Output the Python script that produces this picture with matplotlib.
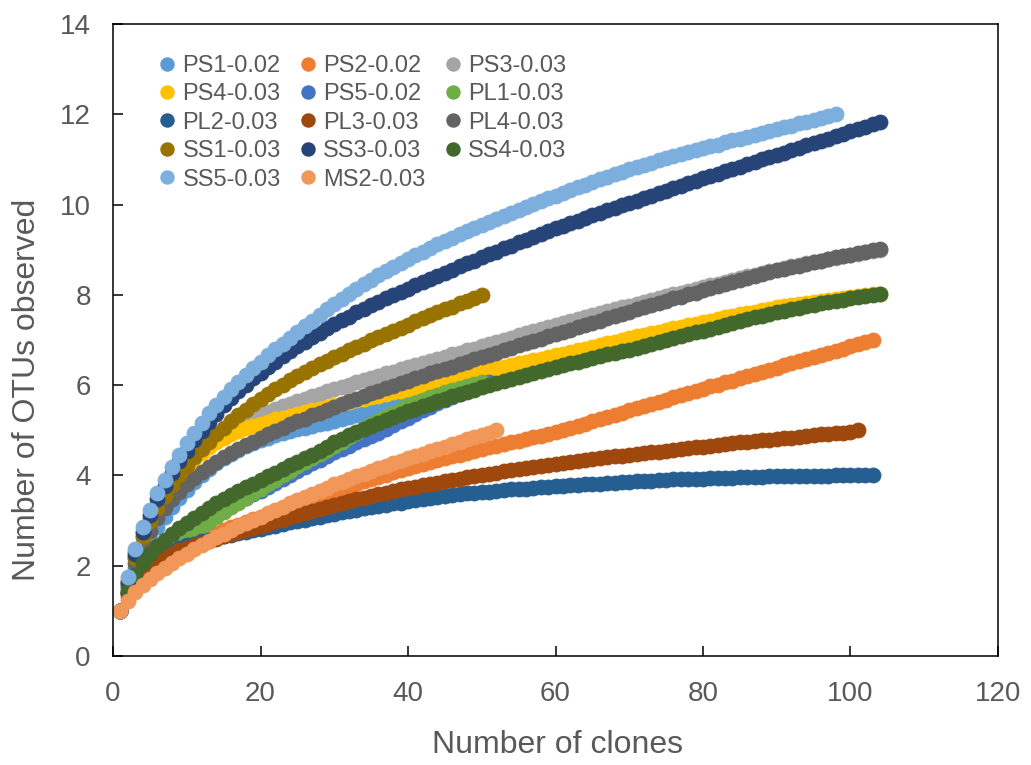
import matplotlib
matplotlib.use("Agg")
import matplotlib.pyplot as plt
from matplotlib.lines import Line2D

plt.rcParams['font.family'] = ['Liberation Sans', 'DejaVu Sans']

# ---- data (observed OTUs vs number of clones, one value per clone starting at 1) ----
ps1 = [1.00,1.50,1.95,2.30,2.60,2.86,3.09,3.30,3.50,3.68,
       3.85,4.00,4.14,4.27,4.38,4.48,4.57,4.65,4.72,4.79,
       4.84,4.89,4.94,4.99,5.03,5.06,5.10,5.13,5.17,5.20,
       5.24,5.29,5.34,5.39,5.44,5.49,5.54,5.59,5.64,5.69,
       5.73,5.77,5.81,5.85,5.88,5.91,5.94,5.97,6.00,6.03]
ps2 = [1.00,1.30,1.53,1.72,1.88,2.02,2.14,2.24,2.33,2.42,
       2.50,2.58,2.65,2.72,2.79,2.85,2.91,2.97,3.03,3.09,
       3.15,3.21,3.27,3.32,3.38,3.44,3.49,3.55,3.60,3.66,
       3.71,3.76,3.82,3.87,3.92,3.97,4.02,4.07,4.12,4.17,
       4.21,4.25,4.30,4.34,4.38,4.42,4.46,4.50,4.54,4.58,
       4.62,4.66,4.69,4.73,4.77,4.81,4.85,4.88,4.92,4.96,
       5.01,5.06,5.10,5.15,5.20,5.25,5.30,5.34,5.39,5.44,
       5.49,5.54,5.58,5.63,5.68,5.73,5.78,5.82,5.87,5.92,
       5.97,6.01,6.06,6.10,6.15,6.20,6.25,6.29,6.34,6.39,
       6.44,6.48,6.53,6.57,6.62,6.67,6.72,6.76,6.81,6.86,
       6.91,6.95,7.00]
ps3 = [1.00,1.65,2.20,2.66,3.03,3.35,3.63,3.89,4.12,4.33,
       4.50,4.66,4.79,4.91,5.00,5.09,5.16,5.23,5.29,5.35,
       5.41,5.47,5.53,5.58,5.64,5.69,5.75,5.80,5.86,5.91,
       5.96,6.01,6.06,6.11,6.16,6.21,6.26,6.30,6.35,6.40,
       6.45,6.49,6.54,6.58,6.63,6.68,6.72,6.77,6.81,6.86,
       6.91,6.96,7.00,7.05,7.10,7.15,7.19,7.24,7.28,7.33,
       7.37,7.42,7.46,7.51,7.55,7.59,7.64,7.68,7.72,7.76,
       7.80,7.85,7.89,7.93,7.97,8.01,8.05,8.09,8.13,8.17,
       8.21,8.25,8.29,8.33,8.37,8.41,8.45,8.48,8.52,8.56,
       8.59,8.63,8.66,8.70,8.73,8.76,8.79,8.82,8.85,8.88,
       8.91,8.94,8.97,9.00]
ps4 = [1.00,1.70,2.30,2.72,3.05,3.35,3.60,3.82,4.02,4.20,
       4.36,4.50,4.63,4.74,4.84,4.92,4.99,5.05,5.10,5.15,
       5.19,5.24,5.28,5.32,5.36,5.40,5.44,5.47,5.51,5.55,
       5.59,5.62,5.66,5.69,5.73,5.77,5.81,5.84,5.88,5.92,
       5.96,6.00,6.03,6.07,6.11,6.15,6.19,6.22,6.26,6.30,
       6.34,6.37,6.41,6.44,6.48,6.52,6.55,6.59,6.62,6.66,
       6.70,6.74,6.77,6.81,6.85,6.89,6.93,6.96,7.00,7.04,
       7.08,7.11,7.15,7.18,7.22,7.26,7.29,7.33,7.36,7.40,
       7.43,7.47,7.50,7.54,7.57,7.60,7.63,7.66,7.69,7.72,
       7.75,7.77,7.80,7.82,7.85,7.87,7.89,7.91,7.93,7.95,
       7.97,7.99,8.01,8.03]
ps5 = [1.00,1.40,1.72,1.96,2.15,2.30,2.43,2.54,2.63,2.72,
       2.84,2.95,3.06,3.16,3.25,3.34,3.42,3.50,3.58,3.65,
       3.74,3.83,3.92,4.01,4.10,4.18,4.27,4.35,4.44,4.52,
       4.59,4.66,4.74,4.81,4.88,4.95,5.02,5.12,5.20,5.28,
       5.36,5.44,5.52,5.60,5.67,5.74,5.81,5.88,5.95,6.01,
       6.06]
pl1 = [1.00,1.40,1.70,1.90,2.05,2.18,2.30,2.41,2.52,2.63,
       2.75,2.86,2.97,3.08,3.19,3.30,3.40,3.50,3.60,3.70,
       3.80,3.90,4.00,4.10,4.20,4.29,4.38,4.47,4.56,4.65,
       4.75,4.85,4.95,5.05,5.15,5.23,5.31,5.39,5.47,5.55,
       5.61,5.67,5.73,5.79,5.85,5.89,5.94,5.98,6.03,6.07]
pl2 = [1.00,1.40,1.70,1.90,2.04,2.15,2.24,2.32,2.39,2.45,
       2.49,2.54,2.58,2.62,2.65,2.69,2.72,2.75,2.79,2.82,
       2.85,2.89,2.92,2.96,2.99,3.02,3.06,3.09,3.12,3.15,
       3.18,3.21,3.24,3.27,3.30,3.33,3.35,3.38,3.40,3.43,
       3.45,3.47,3.50,3.52,3.54,3.56,3.58,3.60,3.61,3.63,
       3.64,3.66,3.67,3.69,3.70,3.71,3.72,3.74,3.75,3.76,
       3.77,3.78,3.79,3.80,3.81,3.82,3.83,3.84,3.85,3.86,
       3.87,3.88,3.88,3.89,3.90,3.91,3.91,3.92,3.92,3.93,
       3.94,3.94,3.95,3.95,3.96,3.96,3.97,3.97,3.98,3.98,
       3.98,3.98,3.99,3.99,3.99,3.99,3.99,4.00,4.00,4.00,
       4.00,4.00,4.00]
pl3 = [1.00,1.40,1.68,1.88,2.02,2.12,2.20,2.27,2.34,2.40,
       2.45,2.50,2.55,2.60,2.65,2.70,2.74,2.79,2.83,2.88,
       2.93,2.98,3.02,3.07,3.12,3.17,3.21,3.26,3.30,3.35,
       3.39,3.43,3.47,3.51,3.55,3.58,3.62,3.65,3.69,3.72,
       3.75,3.78,3.81,3.84,3.87,3.90,3.93,3.96,3.98,4.01,
       4.04,4.06,4.09,4.11,4.14,4.16,4.19,4.21,4.24,4.26,
       4.28,4.30,4.32,4.34,4.36,4.38,4.40,4.42,4.44,4.46,
       4.48,4.50,4.51,4.53,4.55,4.57,4.59,4.60,4.62,4.64,
       4.66,4.68,4.69,4.71,4.73,4.75,4.76,4.78,4.79,4.81,
       4.83,4.84,4.86,4.87,4.89,4.91,4.92,4.94,4.95,4.97,
       5.00]
pl4 = [1.00,1.55,2.05,2.45,2.78,3.05,3.28,3.47,3.64,3.80,
       3.94,4.07,4.19,4.30,4.40,4.50,4.59,4.67,4.75,4.83,
       4.91,4.98,5.06,5.13,5.20,5.26,5.33,5.39,5.46,5.52,
       5.58,5.64,5.70,5.76,5.82,5.88,5.93,5.99,6.04,6.10,
       6.15,6.20,6.26,6.31,6.36,6.41,6.46,6.52,6.57,6.62,
       6.67,6.72,6.78,6.83,6.88,6.93,6.98,7.03,7.08,7.13,
       7.18,7.23,7.28,7.33,7.38,7.43,7.48,7.53,7.58,7.63,
       7.68,7.73,7.77,7.82,7.87,7.92,7.96,8.01,8.05,8.10,
       8.15,8.19,8.24,8.28,8.33,8.37,8.41,8.46,8.50,8.54,
       8.58,8.62,8.65,8.69,8.73,8.76,8.79,8.83,8.86,8.89,
       8.92,8.96,8.99,9.02]
ss1 = [1.00,1.60,2.18,2.63,2.98,3.28,3.55,3.79,4.01,4.21,
       4.40,4.58,4.75,4.91,5.06,5.20,5.33,5.46,5.58,5.69,
       5.80,5.91,6.01,6.11,6.20,6.29,6.37,6.46,6.54,6.62,
       6.70,6.77,6.85,6.92,6.99,7.06,7.13,7.20,7.27,7.34,
       7.41,7.48,7.55,7.61,7.68,7.74,7.81,7.87,7.94,8.00]
ss3 = [1.00,1.65,2.25,2.74,3.13,3.47,3.77,4.05,4.31,4.55,
       4.78,4.99,5.19,5.37,5.55,5.71,5.87,6.01,6.15,6.28,
       6.40,6.52,6.64,6.75,6.86,6.96,7.06,7.16,7.26,7.35,
       7.44,7.52,7.61,7.69,7.77,7.85,7.92,8.00,8.07,8.14,
       8.21,8.28,8.35,8.42,8.49,8.56,8.63,8.70,8.76,8.83,
       8.90,8.96,9.03,9.09,9.16,9.22,9.28,9.35,9.41,9.47,
       9.53,9.59,9.64,9.70,9.76,9.82,9.87,9.93,9.98,10.04,
       10.09,10.15,10.20,10.26,10.31,10.36,10.42,10.47,10.53,10.58,
       10.63,10.68,10.74,10.79,10.84,10.89,10.94,11.00,11.05,11.10,
       11.15,11.20,11.26,11.31,11.36,11.41,11.46,11.52,11.57,11.62,
       11.67,11.72,11.78,11.83]
ss4 = [1.00,1.45,1.80,2.06,2.27,2.44,2.58,2.71,2.83,2.95,
       3.06,3.17,3.28,3.38,3.48,3.57,3.66,3.74,3.82,3.90,
       3.98,4.06,4.14,4.22,4.30,4.38,4.46,4.55,4.64,4.73,
       4.81,4.89,4.96,5.03,5.10,5.17,5.23,5.30,5.36,5.42,
       5.48,5.54,5.59,5.65,5.70,5.75,5.80,5.85,5.90,5.95,
       6.00,6.04,6.09,6.13,6.18,6.22,6.27,6.31,6.36,6.40,
       6.44,6.48,6.52,6.56,6.60,6.64,6.68,6.71,6.75,6.78,
       6.82,6.87,6.91,6.96,7.00,7.04,7.08,7.13,7.17,7.21,
       7.25,7.29,7.34,7.38,7.42,7.46,7.50,7.53,7.57,7.61,
       7.64,7.68,7.71,7.75,7.78,7.81,7.84,7.86,7.89,7.92,
       7.95,7.97,8.00,8.02]
ss5 = [1.00,1.75,2.37,2.86,3.24,3.60,3.90,4.19,4.45,4.72,
       4.95,5.17,5.38,5.56,5.74,5.91,6.07,6.23,6.38,6.52,
       6.66,6.79,6.92,7.05,7.18,7.31,7.43,7.56,7.68,7.80,
       7.91,8.02,8.13,8.23,8.33,8.43,8.52,8.62,8.71,8.80,
       8.88,8.96,9.04,9.12,9.20,9.27,9.34,9.41,9.48,9.55,
       9.62,9.68,9.75,9.81,9.88,9.94,10.01,10.07,10.14,10.20,
       10.26,10.32,10.38,10.44,10.50,10.56,10.61,10.67,10.72,10.78,
       10.83,10.88,10.93,10.98,11.03,11.07,11.12,11.16,11.21,11.25,
       11.29,11.33,11.38,11.42,11.46,11.50,11.54,11.59,11.63,11.67,
       11.71,11.75,11.80,11.84,11.88,11.92,11.96,12.00]
ms2 = [1.00,1.22,1.41,1.57,1.71,1.84,1.96,2.07,2.17,2.27,
       2.37,2.46,2.55,2.63,2.71,2.79,2.87,2.94,3.01,3.08,
       3.16,3.23,3.31,3.38,3.45,3.52,3.59,3.66,3.73,3.80,
       3.86,3.92,3.98,4.04,4.10,4.16,4.21,4.27,4.32,4.38,
       4.43,4.48,4.54,4.59,4.64,4.69,4.74,4.80,4.85,4.90,
       4.95,5.00]

labels = ["PS1-0.02", "PS2-0.02", "PS3-0.03", "PS4-0.03", "PS5-0.02", "PL1-0.03",
          "PL2-0.03", "PL3-0.03", "PL4-0.03", "SS1-0.03", "SS3-0.03", "SS4-0.03",
          "SS5-0.03", "MS2-0.03"]
series = [ps1, ps2, ps3, ps4, ps5, pl1, pl2, pl3, pl4, ss1, ss3, ss4, ss5, ms2]
colors = ["#5B9BD5", "#ED7D31", "#A5A5A5", "#FFC000", "#4472C4", "#70AD47",
          "#255E91", "#9E480E", "#636363", "#997300", "#264478", "#43682B",
          "#7CAFDD", "#F1975A"]

x_ticks = [0, 20, 40, 60, 80, 100, 120]
y_ticks = [0, 2, 4, 6, 8, 10, 12, 14]

# ---- figure ----
W, H = 1031, 765
fig = plt.figure(figsize=(W / 100, H / 100), dpi=100)
ax = fig.add_axes([113 / W, 1 - 656 / H, (998 - 113) / W, (656 - 24) / H])

handles = []
for ys, c, lab in zip(series, colors, labels):
    xs = list(range(1, len(ys) + 1))
    ax.plot(xs, ys, linestyle='none', marker='o', markersize=10.8,
            color=c, markeredgecolor=c, markeredgewidth=0.6)
    handles.append(Line2D([], [], linestyle='none', marker='o', markersize=9.4,
                          color=c, markeredgecolor=c, label=lab))

ax.set_xlim(0, 120)
ax.set_ylim(0, 14)
ax.set_xticks(x_ticks)
ax.set_yticks(y_ticks)
ax.tick_params(direction='in', length=7.5, width=1.1, colors='black',
               labelcolor='#595959', labelsize=20)
ax.tick_params(axis='y', pad=16)
ax.tick_params(axis='x', pad=18)
for sp in ax.spines.values():
    sp.set_color('black')
    sp.set_linewidth(1.1)

fig.text(557 / W, 1 - 745 / H, "Number of clones", ha='center', va='center',
         fontsize=23, color='#595959')
fig.text(27 / W, 1 - 390 / H, "Number of OTUs observed", ha='center', va='center',
         rotation=90, fontsize=23, color='#595959')

# legend filled row-wise like the reference (3 columns)
order = [0, 3, 6, 9, 12, 1, 4, 7, 10, 13, 2, 5, 8, 11]
leg = ax.legend([handles[i] for i in order], [labels[i] for i in order],
                ncol=3, loc='upper left', bbox_to_anchor=((160 - 113) / 885, (656 - 55) / 632),
                frameon=False, fontsize=17, handlelength=0.6, handletextpad=0.35,
                columnspacing=0.85, labelspacing=0.27, borderpad=0, borderaxespad=0)
for t in leg.get_texts():
    t.set_color('#595959')

fig.savefig("out.png", dpi=100)
